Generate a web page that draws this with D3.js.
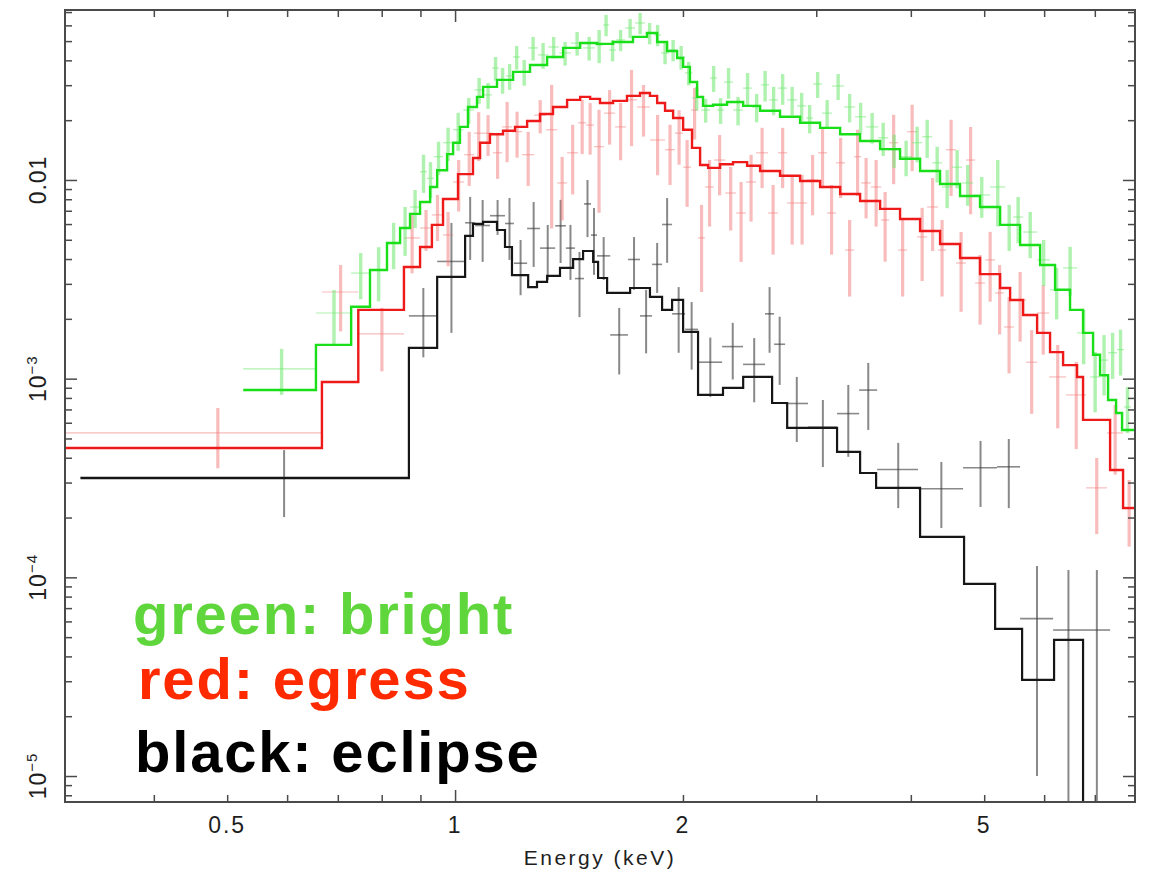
<!DOCTYPE html>
<html>
<head>
<meta charset="utf-8">
<script src="https://cdnjs.cloudflare.com/ajax/libs/d3/7.8.5/d3.min.js"></script>
<style>
  body { margin: 0; background: #fff; }
  text { font-family: "Liberation Sans", Arial, Helvetica, sans-serif; }
</style>
</head>
<body>
<div id="chart"></div>
<script>
// axis ranges (keV, flux)
var xDomain = [0.3053, 7.91];
var yDomain = [7.4e-6, 0.0717];

// tick values and labels
var xMajorTicks = [1];
var xMinorTicks = [0.4, 0.5, 0.6, 0.7, 0.8, 0.9, 2, 3, 4, 5, 6, 7];
var xLabelValues = [0.5, 1, 2, 5];
var xLabelText = ["0.5", "1", "2", "5"];
var yMajorTicks = [1e-5, 1e-4, 1e-3, 1e-2];
var yLabelValues = [1e-5, 1e-4, 1e-3, 0.01];
var yLabelBase = ["10", "10", "10", "0.01"];
var yLabelExp = ["\u22125", "\u22124", "\u22123", ""];

// legend
var legendText = ["green: bright", "red: egress", "black: eclipse"];
var legendColor = ["#5fd63c", "#ff2a00", "#000000"];

// ---- bright (green): model, binned on its own edges
var greenModelEdges = [0.525, 0.655, 0.729, 0.772, 0.813, 0.846, 0.872, 0.899, 0.927, 0.947, 0.976, 0.994, 1.015, 1.040, 1.069, 1.089, 1.136, 1.193, 1.256, 1.323, 1.389, 1.463, 1.540, 1.617, 1.718, 1.793, 1.849, 1.906, 1.965, 2.001, 2.043, 2.088, 2.126, 2.192, 2.287, 2.402, 2.529, 2.687, 2.856, 3.035, 3.226, 3.428, 3.643, 3.871, 4.114, 4.372, 4.646, 4.937, 5.248, 5.577, 5.927, 6.203, 6.492, 6.754, 6.963, 7.112, 7.288, 7.468, 7.605, 7.912];
var greenModel = [0.000877, 0.00148, 0.00230, 0.00352, 0.00482, 0.00573, 0.00675, 0.00775, 0.00922, 0.0112, 0.0135, 0.0154, 0.0185, 0.0233, 0.0262, 0.0294, 0.0319, 0.0350, 0.0379, 0.0416, 0.0462, 0.0489, 0.0484, 0.0495, 0.0525, 0.0549, 0.0495, 0.0446, 0.0411, 0.0371, 0.0311, 0.0262, 0.0236, 0.0239, 0.0247, 0.0236, 0.0223, 0.0208, 0.0194, 0.0183, 0.0170, 0.0157, 0.0143, 0.0128, 0.0111, 0.00955, 0.00831, 0.00731, 0.00594, 0.00471, 0.00373, 0.00280, 0.00222, 0.00170, 0.00132, 0.00104, 0.000781, 0.000672, 0.000552];

// green data: contiguous bins, flux and 1-sigma error
var greenEdges = [0.525, 0.655, 0.729, 0.772, 0.813, 0.846, 0.872, 0.899, 0.918, 0.938, 0.964, 0.994, 1.025, 1.060, 1.092, 1.119, 1.143, 1.168, 1.193, 1.219, 1.249, 1.287, 1.327, 1.372, 1.423, 1.476, 1.531, 1.569, 1.597, 1.632, 1.677, 1.729, 1.782, 1.832, 1.871, 1.917, 1.965, 2.013, 2.057, 2.114, 2.172, 2.219, 2.266, 2.329, 2.401, 2.468, 2.537, 2.599, 2.671, 2.746, 2.830, 2.909, 2.971, 3.054, 3.148, 3.265, 3.376, 3.491, 3.621, 3.733, 3.871, 4.015, 4.140, 4.268, 4.399, 4.535, 4.675, 4.835, 5.091, 5.330, 5.460, 5.628, 5.874, 6.109, 6.355, 6.632, 6.902, 7.112, 7.288, 7.490, 7.649, 7.815];
var greenFlux = [0.00112, 0.00214, 0.00340, 0.00352, 0.00482, 0.00573, 0.00731, 0.0110, 0.0102, 0.0131, 0.0154, 0.0179, 0.0225, 0.0284, 0.0268, 0.0366, 0.0319, 0.0334, 0.0416, 0.0350, 0.0462, 0.0426, 0.0467, 0.0436, 0.0489, 0.0462, 0.0478, 0.0603, 0.0451, 0.0507, 0.0582, 0.0617, 0.0549, 0.0537, 0.0436, 0.0451, 0.0416, 0.0346, 0.0259, 0.0225, 0.0326, 0.0225, 0.0311, 0.0225, 0.0290, 0.0233, 0.0301, 0.0253, 0.0290, 0.0253, 0.0236, 0.0205, 0.0304, 0.0217, 0.0297, 0.0233, 0.0208, 0.0185, 0.0163, 0.0142, 0.0131, 0.0154, 0.0165, 0.0122, 0.00922, 0.0116, 0.00966, 0.00840, 0.00922, 0.00594, 0.00651, 0.00547, 0.00396, 0.00280, 0.00361, 0.00170, 0.00102, 0.00124, 0.00135, 0.00140, 0.000720];
var greenErr = [0.000292, 0.000653, 0.000888, 0.00107, 0.00126, 0.00158, 0.00159, 0.00239, 0.00209, 0.00248, 0.00292, 0.00389, 0.00335, 0.00423, 0.00399, 0.00498, 0.00475, 0.00497, 0.00566, 0.00521, 0.00628, 0.00634, 0.00575, 0.00593, 0.00665, 0.00628, 0.00908, 0.00741, 0.00555, 0.00623, 0.00640, 0.00759, 0.00676, 0.00660, 0.00536, 0.00555, 0.00566, 0.00470, 0.00352, 0.00306, 0.00486, 0.00335, 0.00548, 0.00367, 0.00552, 0.00380, 0.00529, 0.00412, 0.00511, 0.00412, 0.00384, 0.00334, 0.00453, 0.00354, 0.00443, 0.00380, 0.00365, 0.00325, 0.00309, 0.00269, 0.00266, 0.00313, 0.00359, 0.00248, 0.00201, 0.00253, 0.00224, 0.00195, 0.00339, 0.00155, 0.00170, 0.00143, 0.00103, 0.000812, 0.000994, 0.000519, 0.000343, 0.000417, 0.000352, 0.000364, 0.000188];

// ---- egress (red)
var redModelEdges = [0.305, 0.667, 0.745, 0.856, 0.899, 0.932, 0.964, 1.009, 1.056, 1.079, 1.112, 1.157, 1.200, 1.245, 1.295, 1.347, 1.406, 1.463, 1.508, 1.554, 1.617, 1.687, 1.755, 1.809, 1.849, 1.894, 1.941, 2.001, 2.056, 2.107, 2.159, 2.239, 2.329, 2.431, 2.529, 2.687, 2.856, 3.035, 3.226, 3.428, 3.643, 3.871, 4.114, 4.372, 4.646, 4.937, 5.248, 5.410, 5.628, 5.873, 6.109, 6.356, 6.632, 6.754, 7.333, 7.628, 7.912];
var redModel = [0.000448, 0.000962, 0.00222, 0.00365, 0.00460, 0.00594, 0.00802, 0.0107, 0.0129, 0.0154, 0.0170, 0.0177, 0.0185, 0.0198, 0.0215, 0.0233, 0.0253, 0.0262, 0.0256, 0.0244, 0.0250, 0.0265, 0.0274, 0.0265, 0.0244, 0.0223, 0.0205, 0.0179, 0.0145, 0.0119, 0.0115, 0.0120, 0.0123, 0.0118, 0.0111, 0.0105, 0.00988, 0.00922, 0.00850, 0.00784, 0.00715, 0.00636, 0.00554, 0.00476, 0.00405, 0.00336, 0.00286, 0.00249, 0.00209, 0.00170, 0.00136, 0.00117, 0.00102, 0.000620, 0.000347, 0.000223];

var redEdges = [0.305, 0.667, 0.745, 0.856, 0.899, 0.932, 0.964, 0.994, 1.028, 1.060, 1.089, 1.122, 1.154, 1.189, 1.226, 1.272, 1.319, 1.364, 1.406, 1.454, 1.490, 1.526, 1.573, 1.627, 1.682, 1.739, 1.809, 1.894, 1.952, 2.001, 2.050, 2.094, 2.139, 2.198, 2.274, 2.351, 2.423, 2.498, 2.591, 2.671, 2.746, 2.830, 2.917, 3.016, 3.100, 3.186, 3.275, 3.366, 3.438, 3.544, 3.654, 3.744, 3.848, 3.955, 4.077, 4.203, 4.345, 4.452, 4.590, 4.732, 4.863, 5.013, 5.169, 5.311, 5.475, 5.679, 5.874, 6.092, 6.414, 6.816, 7.266, 7.628, 7.912];
var redFlux = [0.000533, 0.00273, 0.00168, 0.00511, 0.00573, 0.00667, 0.00529, 0.00977, 0.0134, 0.0172, 0.0172, 0.0137, 0.0185, 0.0175, 0.0134, 0.0212, 0.0179, 0.00966, 0.0137, 0.0194, 0.0189, 0.0147, 0.0217, 0.0185, 0.0253, 0.0233, 0.0159, 0.0142, 0.0172, 0.0116, 0.0225, 0.00511, 0.00922, 0.0126, 0.00860, 0.00682, 0.00977, 0.0137, 0.00682, 0.0137, 0.00766, 0.00766, 0.0100, 0.0137, 0.00682, 0.0122, 0.00444, 0.0131, 0.00966, 0.00922, 0.00629, 0.0154, 0.00444, 0.0175, 0.00517, 0.00731, 0.00444, 0.0142, 0.00382, 0.0126, 0.00303, 0.00396, 0.00270, 0.00182, 0.00249, 0.00121, 0.00214, 0.00102, 0.000828, 0.000282, 0.000533, 0.000226];
var redErr = [0.000179, 0.00100, 0.000591, 0.00172, 0.00133, 0.00174, 0.00161, 0.00283, 0.00407, 0.00475, 0.00400, 0.00357, 0.00621, 0.00455, 0.00407, 0.00403, 0.0122, 0.00340, 0.00524, 0.00590, 0.00548, 0.00786, 0.00663, 0.00593, 0.0105, 0.00676, 0.00534, 0.00476, 0.00526, 0.00428, 0.00653, 0.00238, 0.00339, 0.00424, 0.00303, 0.00295, 0.00360, 0.00460, 0.00261, 0.00460, 0.00293, 0.00293, 0.00336, 0.00460, 0.00261, 0.00409, 0.00185, 0.00481, 0.00325, 0.00339, 0.00241, 0.00588, 0.00185, 0.00642, 0.00207, 0.00292, 0.00185, 0.00589, 0.00165, 0.00588, 0.00116, 0.00152, 0.00103, 0.000757, 0.000954, 0.000545, 0.000820, 0.000458, 0.000386, 0.000117, 0.000204, 0.0000832];

// ---- eclipse (black)
var blackModelEdges = [0.320, 0.869, 0.947, 1.031, 1.056, 1.089, 1.136, 1.164, 1.189, 1.249, 1.283, 1.323, 1.376, 1.432, 1.476, 1.522, 1.545, 1.588, 1.703, 1.809, 1.877, 1.935, 2.001, 2.094, 2.259, 2.402, 2.623, 2.746, 3.196, 3.428, 3.599, 4.114, 4.703, 5.169, 5.611, 6.184, 6.754];
var blackModel = [0.000316, 0.00143, 0.00325, 0.00523, 0.00601, 0.00615, 0.00560, 0.00460, 0.00332, 0.00289, 0.00307, 0.00329, 0.00361, 0.00400, 0.00439, 0.00387, 0.00321, 0.00270, 0.00286, 0.00258, 0.00222, 0.00249, 0.00172, 0.000828, 0.000898, 0.00102, 0.000754, 0.000565, 0.000428, 0.000335, 0.000282, 0.000160, 0.0000926, 0.0000550, 0.0000305, 0.0000484];

var blackEdges = [0.320, 0.869, 0.947, 1.031, 1.063, 1.112, 1.164, 1.196, 1.245, 1.295, 1.356, 1.401, 1.440, 1.480, 1.512, 1.540, 1.603, 1.692, 1.755, 1.821, 1.877, 1.935, 2.013, 2.094, 2.253, 2.401, 2.567, 2.639, 2.729, 2.926, 3.196, 3.418, 3.610, 4.089, 4.689, 5.200, 5.577, 6.166, 6.754, 7.333];
var blackFlux = [3.19e-4, 2.07e-3, 3.89e-3, 6.09e-3, 5.90e-3, 6.61e-3, 6.04e-3, 3.81e-3, 5.70e-3, 4.54e-3, 5.88e-3, 4.54e-3, 3.19e-3, 7.58e-3, 5.28e-3, 4.15e-3, 1.66e-3, 3.98e-3, 2.07e-3, 3.76e-3, 5.97e-3, 2.12e-3, 1.77e-3, 1.21e-3, 1.45e-3, 1.18e-3, 2.12e-3, 1.49e-3, 7.50e-4, 5.70e-4, 6.67e-4, 8.76e-4, 3.49e-4, 2.79e-4, 3.56e-4, 3.60e-4, 6.2e-5, 5.43e-5, 5.43e-5];
var blackErr = [1.18e-4, 7.9e-4, 2.19e-3, 2.13e-3, 2.03e-3, 1.32e-3, 2.08e-3, 1.18e-3, 2.05e-3, 1.40e-3, 2.06e-3, 1.40e-3, 1.15e-3, 2.42e-3, 1.95e-3, 1.01e-3, 6.1e-4, 1.18e-3, 7.3e-4, 1.06e-3, 2.14e-3, 7.7e-4, 6.6e-4, 4.0e-4, 4.6e-4, 4.2e-4, 7.7e-4, 5.6e-4, 2.70e-4, 2.11e-4, 2.63e-4, 3.24e-4, 1.26e-4, 1.02e-4, 1.30e-4, 1.37e-4, 5.2e-5, 5.46e-5, 5.46e-5];

document.addEventListener("DOMContentLoaded", function() {

  var width = 1151, height = 872;
  var plot = {left: 65, right: 1135, top: 10, bottom: 802};

  var x = d3.scaleLog().domain(xDomain).range([plot.left, plot.right]);
  var y = d3.scaleLog().domain(yDomain).range([plot.bottom, plot.top]);

  var svg = d3.select("#chart").append("svg")
    .attr("width", width)
    .attr("height", height);

  svg.append("rect").attr("width", width).attr("height", height).attr("fill", "#fff");

  svg.append("clipPath").attr("id", "clip")
    .append("rect")
    .attr("x", plot.left).attr("y", plot.top)
    .attr("width", plot.right - plot.left)
    .attr("height", plot.bottom - plot.top);

  var area = svg.append("g").attr("clip-path", "url(#clip)");

  //data crosses: bin width horizontally, +/- error vertically
  function drawData(edges, flux, err, color, opacity, hw, vw) {
    var pts = flux.map(function(v, i) {
      return {lo: edges[i], hi: edges[i + 1], v: v, e: err[i]};
    });
    var g = area.append("g")
      .attr("stroke", color)
      .attr("stroke-opacity", opacity);

    g.selectAll(".h").data(pts).enter().append("line")
      .attr("stroke-width", hw)
      .attr("x1", function(d) { return x(d.lo); })
      .attr("x2", function(d) { return x(d.hi); })
      .attr("y1", function(d) { return y(d.v); })
      .attr("y2", function(d) { return y(d.v); });

    g.selectAll(".v").data(pts).enter().append("line")
      .attr("stroke-width", vw)
      .attr("x1", function(d) { return x((d.lo + d.hi) / 2); })
      .attr("x2", function(d) { return x((d.lo + d.hi) / 2); })
      .attr("y1", function(d) { return y(d.v + d.e); })
      .attr("y2", function(d) {
        return d.v - d.e > yDomain[0] ? y(d.v - d.e) : plot.bottom + 10;
      });
  }

  var stepLine = d3.line()
    .x(function(d) { return x(d[0]); })
    .y(function(d) { return y(d[1]); })
    .curve(d3.curveStepAfter);

  function stepPoints(edges, vals, dropToFloor) {
    var pts = vals.map(function(v, i) { return [edges[i], v]; });
    pts.push([edges[edges.length - 1], vals[vals.length - 1]]);
    if (dropToFloor) pts.push([edges[edges.length - 1], yDomain[0] * 0.5]);
    return pts;
  }

  drawData(blackEdges, blackFlux, blackErr, "#3a3a3a", 0.6, 1.6, 2);
  drawData(redEdges, redFlux, redErr, "#f27a7a", 0.5, 1.2, 3.2);
  drawData(greenEdges, greenFlux, greenErr, "#6ee86e", 0.55, 1.2, 3.4);

  area.append("path")
    .attr("d", stepLine(stepPoints(blackModelEdges, blackModel, true)))
    .attr("fill", "none").attr("stroke", "#161616").attr("stroke-width", 2.2);
  area.append("path")
    .attr("d", stepLine(stepPoints(redModelEdges, redModel, false)))
    .attr("fill", "none").attr("stroke", "#ee1a1a").attr("stroke-width", 2.4);
  area.append("path")
    .attr("d", stepLine(stepPoints(greenModelEdges, greenModel, false)))
    .attr("fill", "none").attr("stroke", "#19df19").attr("stroke-width", 2.4);

  //frame
  svg.append("rect")
    .attr("x", plot.left).attr("y", plot.top)
    .attr("width", plot.right - plot.left)
    .attr("height", plot.bottom - plot.top)
    .attr("fill", "none").attr("stroke", "#4a4a4a").attr("stroke-width", 2);

  //minor y ticks 2..9 per decade
  var yMinorTicks = [];
  for (var k = -6; k <= -1; k++) {
    for (var m = 2; m <= 9; m++) {
      var t = m * Math.pow(10, k);
      if (t > yDomain[0] && t < yDomain[1]) yMinorTicks.push(t);
    }
  }

  function tickAxis(axis, transform, values, size) {
    svg.append("g")
      .attr("transform", transform)
      .call(axis.tickValues(values).tickSize(-size).tickFormat(""))
      .call(function(g) { g.select(".domain").remove(); })
      .selectAll("line").attr("stroke", "#4a4a4a").attr("stroke-width", 1.5);
  }

  tickAxis(d3.axisBottom(x), "translate(0," + plot.bottom + ")", xMajorTicks, 12);
  tickAxis(d3.axisBottom(x), "translate(0," + plot.bottom + ")", xMinorTicks, 7);
  tickAxis(d3.axisTop(x), "translate(0," + plot.top + ")", xMajorTicks, 12);
  tickAxis(d3.axisTop(x), "translate(0," + plot.top + ")", xMinorTicks, 7);
  tickAxis(d3.axisLeft(y), "translate(" + plot.left + ",0)", yMajorTicks, 12);
  tickAxis(d3.axisLeft(y), "translate(" + plot.left + ",0)", yMinorTicks, 7);
  tickAxis(d3.axisRight(y), "translate(" + plot.right + ",0)", yMajorTicks, 12);
  tickAxis(d3.axisRight(y), "translate(" + plot.right + ",0)", yMinorTicks, 7);

  //x tick labels
  svg.selectAll(".xlab").data(xLabelValues).enter().append("text")
    .attr("x", function(d) { return x(d); })
    .attr("y", 833)
    .attr("text-anchor", "middle")
    .attr("font-size", 23)
    .attr("letter-spacing", 2)
    .attr("fill", "#1e1e1e")
    .text(function(d, i) { return xLabelText[i]; });

  //y tick labels, rotated
  var yl = svg.selectAll(".ylab").data(yLabelValues).enter().append("text")
    .attr("transform", function(d) { return "translate(46," + y(d) + ") rotate(-90)"; })
    .attr("text-anchor", "middle")
    .attr("font-size", 23)
    .attr("letter-spacing", 1)
    .attr("fill", "#1e1e1e");
  yl.append("tspan").text(function(d, i) { return yLabelBase[i]; });
  yl.append("tspan")
    .attr("dy", -9)
    .attr("font-size", 15)
    .text(function(d, i) { return yLabelExp[i]; });

  svg.append("text")
    .attr("x", (plot.left + plot.right) / 2)
    .attr("y", 865)
    .attr("text-anchor", "middle")
    .attr("font-size", 21)
    .attr("letter-spacing", 2.5)
    .attr("fill", "#1e1e1e")
    .text("Energy (keV)");

  //legend
  svg.selectAll(".legend").data(legendText).enter().append("text")
    .attr("x", function(d, i) { return [133, 138, 135][i]; })
    .attr("y", function(d, i) { return [634, 699, 772][i]; })
    .attr("font-size", 58)
    .attr("letter-spacing", 1.8)
    .attr("font-weight", "bold")
    .attr("fill", function(d, i) { return legendColor[i]; })
    .text(function(d) { return d; });
});
</script>
</body>
</html>
